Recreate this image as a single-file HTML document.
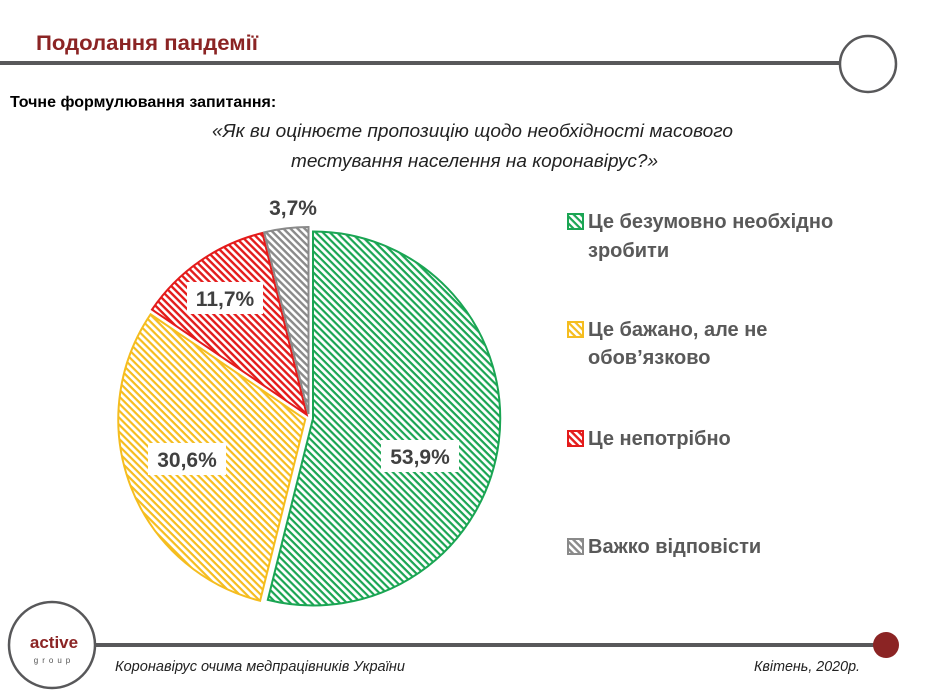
<!DOCTYPE html>
<html><head><meta charset="utf-8"><style>
body{margin:0;background:#fff;}
svg{display:block;font-family:"Liberation Sans",sans-serif;}
</style></head><body>
<svg width="934" height="698" viewBox="0 0 934 698" xmlns="http://www.w3.org/2000/svg">
<defs>
<pattern id="pg" width="5" height="5" patternUnits="userSpaceOnUse" patternTransform="rotate(45)"><rect width="5" height="5" fill="#fff"/><rect width="5" height="2.2" fill="#1aa553"/></pattern>
<pattern id="py" width="5" height="5" patternUnits="userSpaceOnUse" patternTransform="rotate(45)"><rect width="5" height="5" fill="#fff"/><rect width="5" height="2.2" fill="#f5bd1f"/></pattern>
<pattern id="pr" width="5" height="5" patternUnits="userSpaceOnUse" patternTransform="rotate(45)"><rect width="5" height="5" fill="#fff"/><rect width="5" height="2.4" fill="#e41b1b"/></pattern>
<pattern id="pk" width="5" height="5" patternUnits="userSpaceOnUse" patternTransform="rotate(45)"><rect width="5" height="5" fill="#fff"/><rect width="5" height="2.4" fill="#8a8a8a"/></pattern>
</defs>
<!-- header -->
<text x="36" y="50" font-size="21" font-weight="bold" fill="#8b2424" textLength="222" lengthAdjust="spacingAndGlyphs">Подолання пандемії</text>
<rect x="0" y="61" width="842" height="4" fill="#58585a"/>
<circle cx="868" cy="64" r="28" fill="#fff" stroke="#58585a" stroke-width="2.5"/>
<text x="10" y="107" font-size="16" font-weight="bold" fill="#000">Точне формулювання запитання:</text>
<text x="212" y="137" font-size="18" font-style="italic" fill="#222" textLength="521" lengthAdjust="spacingAndGlyphs">«Як ви оцінюєте пропозицію щодо необхідності масового</text>
<text x="291" y="167" font-size="18" font-style="italic" fill="#222" textLength="367" lengthAdjust="spacingAndGlyphs">тестування населення на коронавірус?»</text>
<!-- pie -->
<path d="M313,418.5 L313,231.5 A187,187 0 1 1 267.8,599.9 Z" fill="url(#pg)" stroke="#1aa553" stroke-width="2"/>
<path d="M305.3,419.4 L260.1,600.8 A187,187 0 0 1 150.6,314.3 Z" fill="url(#py)" stroke="#f5bd1f" stroke-width="2"/>
<path d="M306.7,414.7 L152,309.6 A187,187 0 0 1 262.4,233 Z" fill="url(#pr)" stroke="#e41b1b" stroke-width="2"/>
<path d="M308.5,414 L264.2,232.3 A187,187 0 0 1 308.5,227 Z" fill="url(#pk)" stroke="#8a8a8a" stroke-width="2"/>
<g font-size="21" font-weight="bold" fill="#404040" text-anchor="middle">
<rect x="381" y="440" width="78" height="32" fill="#fff"/><text x="420" y="464">53,9%</text>
<rect x="148" y="443" width="78" height="32" fill="#fff"/><text x="187" y="467">30,6%</text>
<rect x="187" y="282" width="76" height="32" fill="#fff"/><text x="225" y="306">11,7%</text>
<text x="293" y="215">3,7%</text>
</g>
<!-- legend -->
<g font-size="20" font-weight="bold" fill="#595959">
<rect x="568" y="214" width="15" height="15" fill="url(#pg)" stroke="#1aa553" stroke-width="2"/>
<text x="588" y="228">Це безумовно необхідно</text><text x="588" y="257">зробити</text>
<rect x="568" y="322" width="15" height="15" fill="url(#py)" stroke="#f5bd1f" stroke-width="2"/>
<text x="588" y="336">Це бажано, але не</text><text x="588" y="364">обов’язково</text>
<rect x="568" y="431" width="15" height="15" fill="url(#pr)" stroke="#e41b1b" stroke-width="2"/>
<text x="588" y="445">Це непотрібно</text>
<rect x="568" y="539" width="15" height="15" fill="url(#pk)" stroke="#8a8a8a" stroke-width="2"/>
<text x="588" y="553">Важко відповісти</text>
</g>
<!-- footer -->
<rect x="95" y="643" width="790" height="4" fill="#58585a"/>
<circle cx="886" cy="645" r="13" fill="#8b2424"/>
<circle cx="52" cy="645" r="43" fill="#fff" stroke="#58585a" stroke-width="2.5"/>
<text x="54" y="648" font-size="17" font-weight="bold" fill="#8b2424" text-anchor="middle">active</text>
<text x="54" y="663" font-size="8" fill="#555" text-anchor="middle" letter-spacing="4">group</text>
<text x="115" y="671" font-size="14.5" font-style="italic" fill="#222" textLength="290" lengthAdjust="spacingAndGlyphs">Коронавірус очима медпрацівників України</text>
<text x="754" y="671" font-size="14.5" font-style="italic" fill="#222" textLength="106" lengthAdjust="spacingAndGlyphs">Квітень, 2020р.</text>
</svg>
</body></html>
